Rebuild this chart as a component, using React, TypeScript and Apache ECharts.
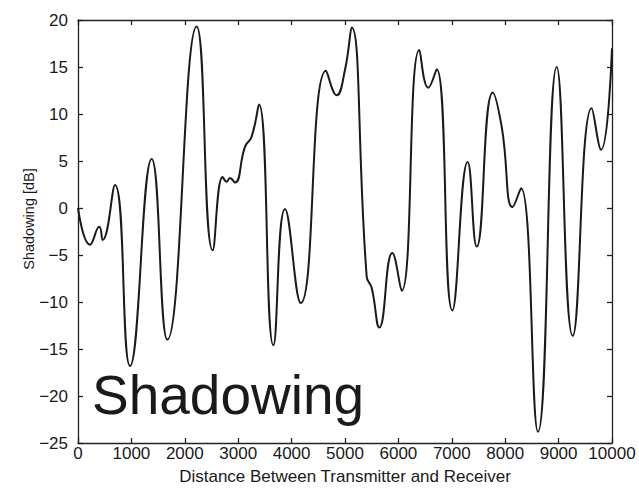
import React, { useEffect, useRef } from "react";
import * as echarts from "echarts";

const distance = [
  0, 225, 399, 462, 693, 974, 1380, 1673, 2222, 2522, 2709, 2784, 2846, 2940,
  3127, 3252, 3390, 3658, 3876, 4170, 4644, 4844, 5000, 5125, 5406, 5500, 5643,
  5886, 6061, 6392, 6560, 6717, 7010, 7297, 7466, 7766, 7934, 8140, 8296, 8614,
  8964, 9264, 9619, 9794, 10000,
];
const shadowing = [
  0, -3.9, -2.0, -3.4, 2.45, -16.8, 5.2, -14.0, 19.3, -4.5, 3.3, 2.8, 3.2, 2.7,
  6.5, 7.6, 11.0, -14.6, -0.1, -10.1, 14.6, 12.0, 14.7, 19.2, -7.3, -8.5, -12.7,
  -4.8, -8.8, 16.8, 12.8, 14.75, -10.9, 4.9, -4.1, 12.3, 8.65, 0.1, 2.1, -23.8,
  15.0, -13.6, 10.6, 6.2, 17.0,
];
const xTicks = { min: 0, max: 10000, interval: 1000 };
const yTicks = { min: -25, max: 20, interval: 5 };
const xLabel = "Distance Between Transmitter and Receiver";
const yLabel = "Shadowing [dB]";
const overlayLabel = "Shadowing";

export default function App() {
  const ref = useRef<HTMLDivElement>(null);
  useEffect(() => {
    if (!ref.current) return;
    const chart = echarts.init(ref.current, null, { renderer: "svg" });
    const font = "Liberation Sans, Arial, Helvetica, sans-serif";
    const axisLine = { show: true, onZero: false, lineStyle: { color: "#222", width: 1.3 } };
    const axisTick = { show: true, inside: true, length: 5, lineStyle: { color: "#222", width: 1.3 } };
    const plain = (v: number) => String(v).replace("-", "\u2212");
    chart.setOption({
      animation: false,
      backgroundColor: "#fff",
      grid: { left: 78, right: 27, top: 20, bottom: 45, containLabel: false, outerBoundsMode: "none" },
      xAxis: [
        {
          type: "value",
          ...xTicks,
          position: "bottom",
          axisLine,
          axisTick,
          splitLine: { show: false },
          axisLabel: { color: "#1a1a1a", fontFamily: font, fontSize: 17, margin: 2, formatter: plain },
          name: xLabel,
          nameLocation: "middle",
          nameGap: 25,
          nameTextStyle: { color: "#1a1a1a", fontFamily: font, fontSize: 17 },
        },
        {
          type: "value",
          ...xTicks,
          position: "top",
          axisLine,
          axisTick,
          splitLine: { show: false },
          axisLabel: { show: false },
        },
      ],
      yAxis: [
        {
          type: "value",
          ...yTicks,
          position: "left",
          axisLine,
          axisTick,
          splitLine: { show: false },
          axisLabel: { color: "#1a1a1a", fontFamily: font, fontSize: 17, margin: 10, formatter: plain },
        },
        {
          type: "value",
          ...yTicks,
          position: "right",
          axisLine,
          axisTick,
          splitLine: { show: false },
          axisLabel: { show: false },
        },
      ],
      graphic: [
        {
          type: "text",
          x: 29,
          y: 219,
          rotation: Math.PI / 2,
          style: {
            text: yLabel,
            font: `14.5px ${font}`,
            fill: "#1a1a1a",
            align: "center",
            verticalAlign: "middle",
          },
        },
        {
          type: "text",
          left: 92,
          top: 367,
          style: { text: overlayLabel, font: `55px ${font}`, fill: "#1a1a1a" },
          z: 10,
        },
      ],
      series: [
        {
          type: "line",
          xAxisIndex: 0,
          yAxisIndex: 0,
          data: distance.map((d, i) => [d, shadowing[i]]),
          smooth: 0.5,
          showSymbol: false,
          lineStyle: { color: "#1a1a1a", width: 2 },
        },
      ],
    });
    return () => chart.dispose();
  }, []);
  return <div ref={ref} style={{ width: 639, height: 488, position: "absolute", left: 0, top: 0 }} />;
}
